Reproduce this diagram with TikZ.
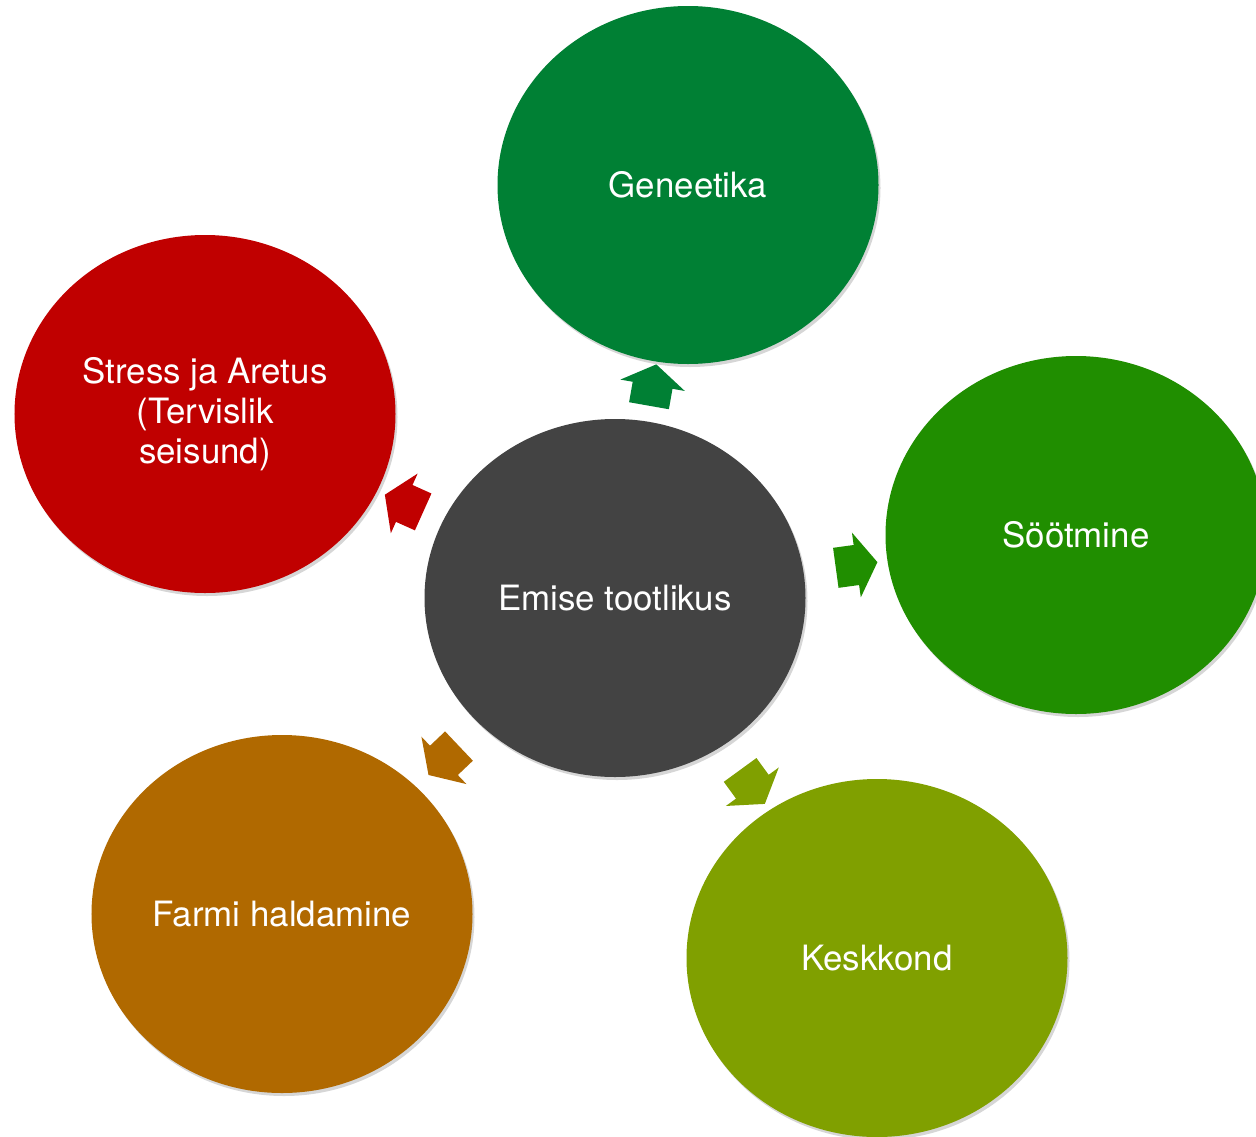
\documentclass[tikz,border=0pt]{standalone}
\usepackage{fontspec}
\setmainfont{TeX Gyre Heros}
\usetikzlibrary{shapes.geometric,shapes.arrows,shadows}
\definecolor{cgen}{RGB}{0,128,52}
\definecolor{cstress}{RGB}{192,0,0}
\definecolor{ccenter}{RGB}{67,67,67}
\definecolor{csoot}{RGB}{32,142,0}
\definecolor{ckesk}{RGB}{128,160,0}
\definecolor{cfarm}{RGB}{176,105,0}
\begin{document}
\begin{tikzpicture}[x=1bp,y=-1bp,
  blob/.style={ellipse, fill=#1, draw=none, minimum width=381bp, minimum height=358bp,
    inner sep=0pt, text=white, align=center,
    font=\fontsize{35}{40}\selectfont,
    drop shadow={fill=black, opacity=0.16, shadow xshift=2bp, shadow yshift=-3bp}},
  pointer/.style={single arrow, fill=#1, draw=none, inner sep=0pt,
    sloped, allow upside down,
    minimum height=42bp, text width=0pt, text height=40bp, text depth=0pt,
    single arrow head extend=12.5bp, single arrow tip angle=114,
    single arrow head indent=0pt}]
\useasboundingbox (0,0) rectangle (1256,1137);
\fill[white] (0,0) rectangle (1256,1137);
\node[blob=cgen] (gen) at (688,185) {Geneetika};
\node[blob=cstress] (stress) at (205,414) {Stress ja Aretus\\(Tervislik\\seisund)};
\node[blob=csoot] (soot) at (1076,535) {Söötmine};
\node[blob=cfarm] (farm) at (282,914) {Farmi haldamine};
\node[blob=ckesk] (kesk) at (877,958) {Keskkond};
\node[blob=ccenter] (c) at (615,598) {Emise tootlikus};
\path (c.center) -- node[pointer=cgen, pos=0.5] (a1) {} (gen.center);
\path (c.center) -- node[pointer=cstress, pos=0.5] (a2) {} (stress.center);
\path (c.center) -- node[pointer=csoot, pos=0.51] (a3) {} (soot.center);
\path (c.center) -- node[pointer=cfarm, pos=0.5] (a4) {} (farm.center);
\path (c.center) -- node[pointer=ckesk, pos=0.51] (a5) {} (kesk.center);
\end{tikzpicture}
\end{document}
